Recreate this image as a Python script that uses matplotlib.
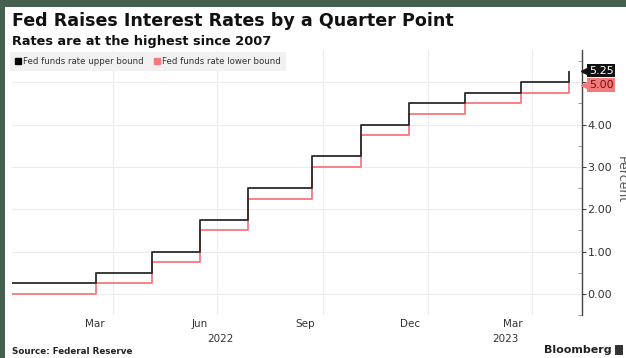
import matplotlib
matplotlib.use("Agg")
import matplotlib.pyplot as plt
import matplotlib.dates as mdates
import matplotlib.transforms as mtransforms
from matplotlib.lines import Line2D
from matplotlib.patches import Rectangle
import pandas as pd

# fed funds target range, value after each decision
step_dates = ["2022-01-03", "2022-03-17", "2022-05-05", "2022-06-16", "2022-07-28",
              "2022-09-22", "2022-11-03", "2022-12-15", "2023-02-02", "2023-03-23",
              "2023-05-04"]
upper_bound = [0.25, 0.50, 1.00, 1.75, 2.50, 3.25, 4.00, 4.50, 4.75, 5.00, 5.25]
lower_bound = [0.00, 0.25, 0.75, 1.50, 2.25, 3.00, 3.75, 4.25, 4.50, 4.75, 5.00]

month_labels = ["Mar", "Jun", "Sep", "Dec", "Mar"]
month_label_dates = ["2022-03-16", "2022-06-16", "2022-09-16", "2022-12-16", "2023-03-16"]
grid_dates = ["2022-04-01", "2022-07-01", "2022-10-01", "2023-01-01", "2023-04-01"]
year_labels = ["2022", "2023"]
y_ticks = [0, 1, 2, 3, 4, 5]

BG = "#46604f"
UPPER_COLOR = "#2b2b2b"
LOWER_COLOR = "#f47a7a"
TEXT = "#333333"

dates = pd.to_datetime(step_dates)
x_start = pd.Timestamp("2022-01-03")
x_end = pd.Timestamp("2023-05-15")

fig = plt.figure(figsize=(6.26, 3.58), dpi=100)
fig.patch.set_facecolor(BG)
fig.patches.append(Rectangle((5 / 626, 0), 1, 1 - 7 / 358, transform=fig.transFigure,
                             facecolor="white", edgecolor="none", zorder=-1))

ax = fig.add_axes([12 / 626, 1 - 315 / 358, (582 - 12) / 626, (315 - 50) / 358])
ax.set_facecolor("none")

ax.step(dates, upper_bound, where="post", color=UPPER_COLOR, lw=1.3, zorder=3)
ax.step(dates, lower_bound, where="post", color=LOWER_COLOR, lw=1.3, zorder=2)

ax.set_xlim(x_start, x_end)
ax.set_ylim(-0.47, 5.76)

# axes look
for side in ["top", "left", "bottom"]:
    ax.spines[side].set_visible(False)
ax.spines["right"].set_color("#444444")
ax.spines["right"].set_linewidth(1)

ax.yaxis.tick_right()
ax.set_yticks(y_ticks)
ax.set_yticklabels([f"{v:.2f}" for v in y_ticks[:-1]] + [""])
ax.set_yticks([v + 0.5 for v in range(-1, 6)], minor=True)
ax.tick_params(axis="y", which="major", direction="out", length=3, width=0.8,
               color="#444444", labelsize=8, labelcolor=TEXT, pad=1)
ax.tick_params(axis="y", which="minor", direction="in", length=3, width=0.6, color="#888888")
ax.grid(axis="y", which="major", color="#ececec", lw=0.8, zorder=0)

ax.set_xticks(pd.to_datetime(month_label_dates))
ax.set_xticklabels(month_labels)
ax.set_xticks(pd.to_datetime(grid_dates), minor=True)
ax.tick_params(axis="x", which="both", length=0, labelsize=7.5, labelcolor=TEXT, pad=3)
ax.grid(axis="x", which="minor", color="#ececec", lw=0.8, zorder=0)

# year labels centred on the visible part of each year
trans = mtransforms.blended_transform_factory(ax.transData, ax.transAxes)
for year in year_labels:
    lo = max(pd.Timestamp(f"{year}-01-01"), x_start)
    hi = min(pd.Timestamp(f"{int(year) + 1}-01-01"), x_end)
    mid = lo + (hi - lo) / 2
    ax.text(mdates.date2num(mid), -0.07, year, transform=trans, ha="center", va="top",
            fontsize=7.5, color=TEXT)

# last value tags
tag_trans = mtransforms.blended_transform_factory(ax.transAxes, ax.transData)
ax.text(1.012, upper_bound[-1] + 0.02, f"{upper_bound[-1]:.2f}", transform=tag_trans,
        ha="left", va="center", fontsize=8, color="white", clip_on=False, zorder=6,
        bbox=dict(boxstyle="square,pad=0.15", facecolor="#111111", edgecolor="none"))
ax.plot([1.006], [upper_bound[-1] + 0.02], marker="<", ms=6, color="#111111",
        transform=tag_trans, clip_on=False, zorder=6)
ax.text(1.012, lower_bound[-1] - 0.07, f"{lower_bound[-1]:.2f}", transform=tag_trans,
        ha="left", va="center", fontsize=8, color="#6b1010", clip_on=False, zorder=5,
        bbox=dict(boxstyle="square,pad=0.15", facecolor=LOWER_COLOR, edgecolor="none"))
ax.plot([1.006], [lower_bound[-1] - 0.07], marker="<", ms=6, color=LOWER_COLOR,
        transform=tag_trans, clip_on=False, zorder=5)

handles = [Line2D([], [], ls="none", marker="s", ms=4.5, color="black"),
           Line2D([], [], ls="none", marker="s", ms=4.5, color=LOWER_COLOR)]
leg = ax.legend(handles, ["Fed funds rate upper bound", "Fed funds rate lower bound"],
                loc="upper left", bbox_to_anchor=(-0.003, 0.993), ncol=2, frameon=True,
                fancybox=False, facecolor="#f1f1f1", edgecolor="none", framealpha=1,
                fontsize=6.2, handlelength=0.6, handletextpad=0.3, columnspacing=1.2,
                borderpad=0.6, borderaxespad=0)
for t in leg.get_texts():
    t.set_color(TEXT)

fig.text(621 / 626, 1 - 180 / 358, "Percent", rotation=270, ha="center", va="center",
         fontsize=9, color="#555555")

fig.text(12 / 626, 1 - 21 / 358, "Fed Raises Interest Rates by a Quarter Point",
         fontsize=12.6, fontweight="bold", color="#111111", ha="left", va="center")
fig.text(12 / 626, 1 - 42 / 358, "Rates are at the highest since 2007",
         fontsize=9.3, fontweight="bold", color="#111111", ha="left", va="center")
fig.text(12 / 626, 1 - 351 / 358, "Source: Federal Reserve",
         fontsize=6.3, fontweight="bold", color="#222222", ha="left", va="center")
fig.text(612 / 626, 1 - 350 / 358, "Bloomberg", fontsize=8, fontweight="bold",
         color="#222222", ha="right", va="center")
fig.patches.append(Rectangle((615 / 626, 1 - 355 / 358), 8 / 626, 10 / 358,
                             transform=fig.transFigure, facecolor="#333333", edgecolor="none"))

fig.savefig("out.png", dpi=100, facecolor=fig.get_facecolor())
